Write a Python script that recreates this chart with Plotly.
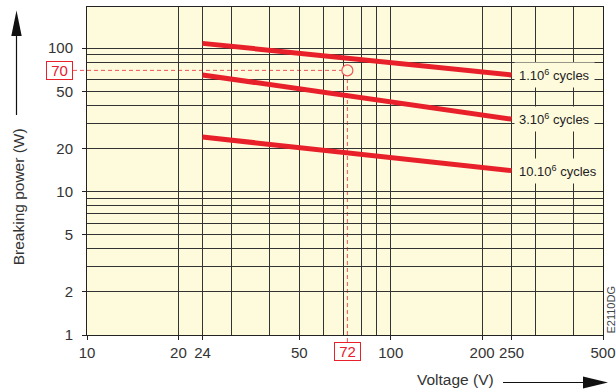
import numpy as np
import plotly.graph_objects as go

# ---------------- data ----------------
voltage_range = [24, 250]                 # V, start / end of each curve
power_1e6 = [108, 65]                     # W, 1.10^6 cycles
power_3e6 = [65, 32]                      # W, 3.10^6 cycles
power_10e6 = [24, 14]                     # W, 10.10^6 cycles
curve_labels = ["1.10<sup>6</sup> cycles", "3.10<sup>6</sup> cycles", "10.10<sup>6</sup> cycles"]

ref_voltage = 72                          # V, worked example
ref_power = 70                            # W

x_tick_vals = [10, 20, 24, 50, 100, 200, 250, 500]
x_tick_text = ["10", "20", "24", "50", "100", "200", "250", "500"]
x_minor_grid = [30, 40, 60, 70, 80, 90, 300, 400]
y_tick_vals = [1, 2, 5, 10, 20, 50, 100]
y_tick_text = ["1", "2", "5", "10", "20", "50", "100"]
y_minor_grid = [3, 4, 6, 7, 8, 9, 30, 40, 60, 80, 90]

# ---------------- style ----------------
W, H = 616, 390
ML, MR, MT, MB = 87, 13, 7, 55
PW, PH = W - ML - MR, H - MT - MB
BG = "#fefadc"
RED = "#e8202a"
DASH_RED = "#f05555"
GRID = "#333333"
FONT = "Liberation Sans, Arial, sans-serif"
TXT = "#333333"


def px_x(p):
    return (p - ML) / PW


def px_y(p):
    return (H - MB - p) / PH


fig = go.Figure()

for vals, lab in zip([power_1e6, power_3e6, power_10e6], curve_labels):
    fig.add_trace(go.Scatter(x=voltage_range, y=vals, mode="lines",
                             line=dict(color=RED, width=5), hoverinfo="skip",
                             showlegend=False))

# reference point circle
fig.add_trace(go.Scatter(x=[ref_voltage], y=[ref_power], mode="markers",
                         marker=dict(size=11, color=BG, line=dict(color=DASH_RED, width=1.2)),
                         showlegend=False, hoverinfo="skip", cliponaxis=False))

shapes = []
dash = dict(color=DASH_RED, width=1, dash="4px,3px")
# horizontal dashed line at 70 W
shapes.append(dict(type="line", xref="x", yref="y", x0=x_tick_vals[0], x1=ref_voltage,
                   y0=ref_power, y1=ref_power, line=dash, layer="below"))
shapes.append(dict(type="line", xref="paper", yref="y", x0=px_x(73), x1=0,
                   y0=ref_power, y1=ref_power, line=dash))
# vertical dashed line at 72 V
shapes.append(dict(type="line", xref="x", yref="y", x0=ref_voltage, x1=ref_voltage,
                   y0=y_tick_vals[0], y1=ref_power, line=dash, layer="below"))
shapes.append(dict(type="line", xref="x", yref="paper", x0=ref_voltage, x1=ref_voltage,
                   y0=px_y(342), y1=0, line=dash))

# axis arrows
shapes.append(dict(type="line", xref="paper", yref="paper", x0=px_x(16.5), x1=px_x(16.5),
                   y0=px_y(115), y1=px_y(30), line=dict(color="#111", width=1.2)))
shapes.append(dict(type="path", xref="paper", yref="paper",
                   path=f"M {px_x(16.5)} {px_y(10.5)} L {px_x(11.3)} {px_y(36)} L {px_x(21.7)} {px_y(36)} Z",
                   fillcolor="#111", line=dict(width=0)))
shapes.append(dict(type="line", xref="paper", yref="paper", x0=px_x(503), x1=px_x(586),
                   y0=px_y(382.5), y1=px_y(382.5), line=dict(color="#111", width=1.2)))
shapes.append(dict(type="path", xref="paper", yref="paper",
                   path=f"M {px_x(608)} {px_y(382.5)} L {px_x(583)} {px_y(376.5)} L {px_x(583)} {px_y(388.5)} Z",
                   fillcolor="#111", line=dict(width=0)))

annotations = []
for vals, lab in zip([power_1e6, power_3e6, power_10e6], curve_labels):
    annotations.append(dict(x=np.log10(voltage_range[1]), y=np.log10(vals[1]), xref="x", yref="y",
                            text=lab, showarrow=False, xanchor="left", yanchor="middle",
                            xshift=2, bgcolor=BG, borderpad=4,
                            font=dict(family=FONT, size=13, color="#222")))

annotations.append(dict(x=px_x(73), y=np.log10(ref_power), xref="paper", yref="y",
                        text=f"&nbsp;{ref_power}&nbsp;", showarrow=False, xanchor="right",
                        yanchor="middle",
                        bordercolor=RED, borderwidth=1, borderpad=0, bgcolor="white",
                        font=dict(family=FONT, size=15, color=RED)))
annotations.append(dict(x=np.log10(ref_voltage), y=px_y(342), xref="x", yref="paper",
                        text=f"&nbsp;{ref_voltage}&nbsp;", showarrow=False, xanchor="center",
                        yanchor="top",
                        bordercolor=RED, borderwidth=1, borderpad=0, bgcolor="white",
                        font=dict(family=FONT, size=15, color=RED)))

annotations.append(dict(x=px_x(18.3), y=px_y(197), xref="paper", yref="paper",
                        text="Breaking power (W)", textangle=-90, showarrow=False,
                        xanchor="center", yanchor="middle",
                        font=dict(family=FONT, size=15.5, color=TXT)))
annotations.append(dict(x=px_x(455), y=px_y(379), xref="paper", yref="paper",
                        text="Voltage (V)", showarrow=False,
                        xanchor="center", yanchor="middle",
                        font=dict(family=FONT, size=15.5, color=TXT)))
annotations.append(dict(x=px_x(610.5), y=px_y(310), xref="paper", yref="paper",
                        text="E2110DG", textangle=-90, showarrow=False,
                        xanchor="center", yanchor="middle",
                        font=dict(family=FONT, size=11, color="#444")))

axis_common = dict(type="log", showline=True, linecolor="#222", linewidth=1, mirror=True,
                   ticks="outside", ticklen=4, tickcolor="#222", showgrid=True,
                   gridcolor=GRID, gridwidth=1, zeroline=False, automargin=False,
                   tickfont=dict(family=FONT, size=15, color=TXT))

fig.update_layout(
    width=W, height=H, margin=dict(l=ML, r=MR, t=MT, b=MB, autoexpand=False),
    paper_bgcolor="white", plot_bgcolor=BG,
    xaxis=dict(axis_common, range=[np.log10(x_tick_vals[0]), np.log10(x_tick_vals[-1])],
               tickmode="array", tickvals=x_tick_vals, ticktext=x_tick_text,
               minor=dict(tickmode="array", tickvals=x_minor_grid, showgrid=True,
                          gridcolor=GRID, gridwidth=1, ticks="")),
    yaxis=dict(axis_common, range=[0, 2.287], ticklabelstandoff=6,
               tickmode="array", tickvals=y_tick_vals, ticktext=y_tick_text,
               minor=dict(tickmode="array", tickvals=y_minor_grid, showgrid=True,
                          gridcolor=GRID, gridwidth=1, ticks="")),
    shapes=shapes, annotations=annotations, showlegend=False,
)

fig.write_html("out.html", config={"displayModeBar": False},
               post_script="document.body.style.margin='0px';document.body.style.overflow='hidden';")
